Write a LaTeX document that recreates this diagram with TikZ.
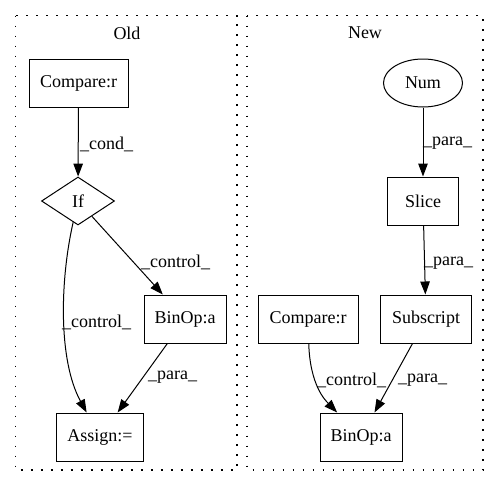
\documentclass[tikz,border=0pt]{standalone}
\usepackage{fontspec}
\setmainfont{Liberation Serif}
\usetikzlibrary{shapes.geometric,arrows.meta}
\begin{document}
\begin{tikzpicture}[x=1pt,y=-1pt,
  every node/.style={font=\fontsize{18}{20}\selectfont},
  box/.style={draw,line width=1pt,rectangle,inner sep=0pt,minimum height=48pt},
  cluster/.style={draw,line width=1.5pt,dash pattern=on 1.8pt off 8.2pt},
  edge/.style={draw,line width=1pt,-{Triangle[length=13pt,width=9.5pt]}},
  lbl/.style={anchor=west,inner sep=0pt}]
\useasboundingbox (0,0) rectangle (499,488);
\fill[white] (0,0) rectangle (499,488);
% clusters
\draw[cluster] (15.5,15.5) rectangle (237,470);
\draw[cluster] (247,15.5) rectangle (483,470);
\node (oldlbl) at (127,33) {Old};
\node (newlbl) at (365,33) {New};
% Old nodes
\node[box,minimum width=99pt] (cmp1) at (78.5,83) {Compare:r};
\node[draw,line width=1pt,diamond,aspect=1.52,inner sep=0pt,minimum width=73pt,minimum height=48pt] (if) at (78,201) {If};
\node[box,minimum width=82pt] (bin1) at (185,319) {BinOp:a};
\node[box,minimum width=87pt] (asg) at (100,437) {Assign:=};
% New nodes
\node[draw,line width=1pt,ellipse,inner sep=0pt,minimum width=79pt,minimum height=48pt] (num) at (423,83) {Num};
\node[box,minimum width=71pt] (slice) at (423,201) {Slice};
\node[box,minimum width=91pt] (sub) at (426,319) {Subscript};
\node[box,minimum width=100pt] (cmp2) at (308,319) {Compare:r};
\node[box,minimum width=82pt] (bin2) at (361,437) {BinOp:a};
% Old edges
\draw[edge] (cmp1) -- (if);
\draw[edge] (if) -- (bin1);
\draw[edge] (if) .. controls (60,280) and (58,360) .. (asg);
\draw[edge] (bin1) -- (asg);
% New edges
\draw[edge] (num) -- (slice);
\draw[edge] (slice) -- (sub);
\draw[edge] (cmp2) .. controls (310,385) and (325,400) .. (bin2);
\draw[edge] (sub) -- (bin2);
% labels
\node[lbl] (l1) at (80,144) {\_cond\_};
\node[lbl] (l2) at (141,262) {\_control\_};
\node[lbl] (l3) at (62,322) {\_control\_};
\node[lbl] (l4) at (148,377) {\_para\_};
\node[lbl] (l5) at (423,143) {\_para\_};
\node[lbl] (l6) at (424,263) {\_para\_};
\node[lbl] (l7) at (317,380) {\_control\_};
\node[lbl] (l8) at (398,380) {\_para\_};
\end{tikzpicture}
\end{document}
